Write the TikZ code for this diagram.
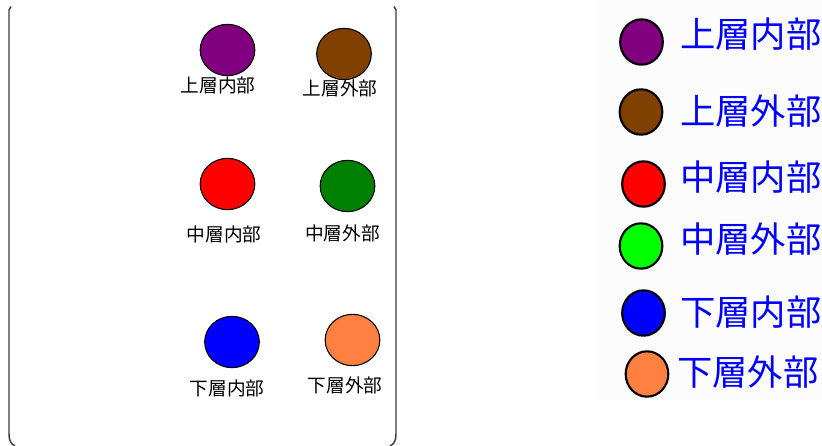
\documentclass[tikz,border=0pt]{standalone}
\usepackage{fontspec}
\newfontfamily\jpfont{Noto Sans CJK JP}
\usetikzlibrary{shapes.geometric}
\definecolor{cpurple}{RGB}{128,0,128}
\definecolor{cbrown}{RGB}{128,64,0}
\definecolor{cred}{RGB}{255,0,0}
\definecolor{cgreen}{RGB}{0,128,0}
\definecolor{clime}{RGB}{0,255,0}
\definecolor{cblue}{RGB}{0,0,255}
\definecolor{corange}{RGB}{255,128,64}
\definecolor{frame}{RGB}{60,60,60}
\definecolor{legbg}{RGB}{252,252,252}
\tikzset{
  dot/.style={ellipse, draw=black, line width=0.8pt, minimum width=41pt, minimum height=38.5pt, inner sep=0pt},
  legdot/.style={ellipse, draw=black, line width=1.6pt, minimum width=32pt, minimum height=34pt, inner sep=0pt},
  lbl/.style={font=\jpfont\fontsize{14pt}{14pt}\selectfont, inner sep=0pt, text=black},
  legtxt/.style={font=\jpfont\fontsize{26.5pt}{26.5pt}\selectfont, inner sep=0pt, anchor=west, text=cblue},
  panel/.style={draw=frame, line width=1.1pt}
}
\begin{document}
\begin{tikzpicture}[x=0.75pt,y=-0.75pt]
\useasboundingbox (0,0) rectangle (822,446);
\fill[white] (0,0) rectangle (822,446);
\fill[legbg] (595,0) rectangle (822,400);
% panel sides
\draw[panel] (11,6.5) .. controls (9.5,7.5) .. (9,10) -- (9,434) .. controls (9,441) and (11,444) .. (15,446);
\draw[panel] (394,6.5) .. controls (395.5,7.5) .. (396,10) -- (396,434) .. controls (396,441) and (394,444) .. (390,446);
% left panel circles
\node[dot, fill=cpurple] (c1) at (227.5,50) {};
\node[dot, fill=cbrown]  (c2) at (344,54) {};
\node[dot, fill=cred]    (c3) at (227.5,184) {};
\node[dot, fill=cgreen]  (c4) at (347.5,186) {};
\node[dot, fill=cblue]   (c5) at (232,342) {};
\node[dot, fill=corange] (c6) at (352.5,340) {};
\node[lbl] (l1) at (218,85) {上層内部};
\node[lbl] (l2) at (340,88) {上層外部};
\node[lbl] (l3) at (224,234) {中層内部};
\node[lbl] (l4) at (342.5,233) {中層外部};
\node[lbl] (l5) at (227,388) {下層内部};
\node[lbl] (l6) at (345,385) {下層外部};
% legend
\node[legdot, fill=cpurple] (d1) at (641.5,42) {};
\node[legdot, fill=cbrown]  (d2) at (641,112) {};
\node[legdot, fill=cred]    (d3) at (643.5,184) {};
\node[legdot, fill=clime]   (d4) at (641,246) {};
\node[legdot, fill=cblue]   (d5) at (643.5,313) {};
\node[legdot, fill=corange] (d6) at (647,374) {};
\node[legtxt] (t1) at (680,34) {上層内部};
\node[legtxt] (t2) at (680,111) {上層外部};
\node[legtxt] (t3) at (680,177.5) {中層内部};
\node[legtxt] (t4) at (680,239) {中層外部};
\node[legtxt] (t5) at (680,312.5) {下層内部};
\node[legtxt] (t6) at (677,372.5) {下層外部};
\end{tikzpicture}
\end{document}
